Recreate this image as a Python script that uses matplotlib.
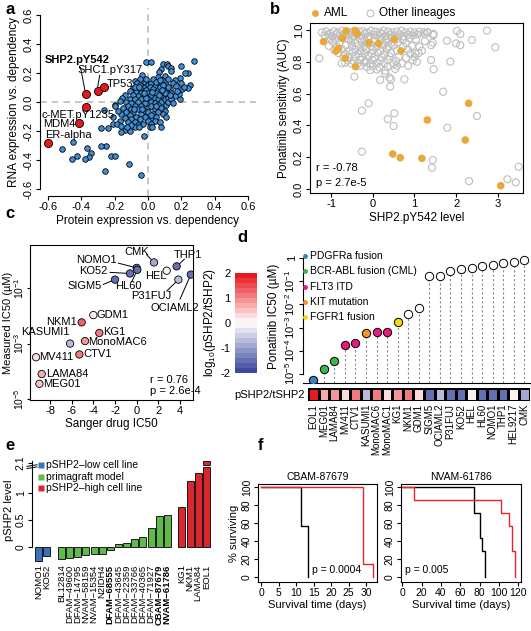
import matplotlib.pyplot as plt
import numpy as np
from matplotlib.colors import LinearSegmentedColormap, BoundaryNorm
from matplotlib.lines import Line2D

plt.rcParams['font.family'] = ['Liberation Sans', 'DejaVu Sans']
plt.rcParams['font.size'] = 8
plt.rcParams['axes.linewidth'] = 0.8
plt.rcParams['xtick.major.width'] = 0.8
plt.rcParams['ytick.major.width'] = 0.8
plt.rcParams['xtick.major.size'] = 3
plt.rcParams['ytick.major.size'] = 3
plt.rcParams['xtick.major.pad'] = 1.5
plt.rcParams['ytick.major.pad'] = 1.5
plt.rcParams['xtick.labelsize'] = 8
plt.rcParams['ytick.labelsize'] = 8
plt.rcParams['axes.labelsize'] = 8.5
plt.rcParams['axes.unicode_minus'] = False
plt.rcParams['mathtext.fontset'] = 'custom'
plt.rcParams['mathtext.rm'] = 'Liberation Sans'
plt.rcParams['mathtext.it'] = 'Liberation Sans:italic'
plt.rcParams['mathtext.bf'] = 'Liberation Sans:bold'
plt.rcParams['mathtext.default'] = 'regular'

# ---------------- data ----------------
# a: protein vs RNA dependency correlation
a_points = [
    (0.278, 0.285), (0.198, 0.248), (0.092, 0.262), (0.112, 0.262), (0.122, 0.248), (0.138, 0.237),
    (0.076, 0.228), (0.138, 0.214), (0.066, 0.21), (0.238, 0.202), (0.222, 0.2), (0.252, 0.117),
    (0.242, 0.099), (0.192, 0.168), (0.162, 0.152), (0.206, 0.09), (0.192, 0.023), (0.188, 0.052),
    (0.132, 0.09), (0.15, 0.13), (0.17, 0.11), (0.1, 0.18), (0.12, 0.16), (0.085, 0.15), (0.14, 0.06),
    (0.16, 0.04), (0.175, 0.075), (0.105, 0.12), (0.118, 0.1), (0.09, 0.09), (0.062, 0.17), (0.05, 0.13),
    (0.2, 0.13), (0.215, 0.105),
    (-0.014, 0.278), (0.016, 0.278), (-0.038, 0.186), (-0.048, 0.16), (-0.08, 0.145), (-0.064, 0.13),
    (-0.092, 0.094), (-0.108, 0.073), (-0.138, 0.048), (-0.155, 0.03), (-0.17, 0.01),
    (-0.02, 0.14), (0.0, 0.12), (0.02, 0.13), (0.04, 0.11), (-0.03, 0.1), (-0.05, 0.09), (0.01, 0.1),
    (0.03, 0.09), (0.06, 0.08), (-0.07, 0.07), (-0.01, 0.08), (0.05, 0.06), (0.07, 0.1), (-0.04, 0.06),
    (0.0, 0.06), (0.02, 0.05), (0.08, 0.04), (0.1, 0.06), (-0.06, 0.04), (-0.09, 0.05), (-0.02, 0.04),
    (0.04, 0.03), (0.06, 0.02), (-0.11, 0.02), (-0.08, 0.02), (-0.04, 0.02), (0.0, 0.02), (0.02, 0.0),
    (0.08, 0.0), (0.1, 0.02), (0.12, 0.03), (-0.13, 0.0), (-0.1, -0.01), (-0.06, 0.0), (-0.02, -0.01),
    (0.04, -0.01), (0.06, -0.02), (0.11, -0.02), (-0.12, -0.03), (-0.08, -0.03), (-0.04, -0.03),
    (0.0, -0.04), (0.02, -0.03), (0.08, -0.04), (-0.15, -0.04), (-0.1, -0.05), (-0.06, -0.05),
    (-0.02, -0.06), (0.04, -0.05), (0.1, -0.06), (-0.13, -0.07), (-0.09, -0.07), (-0.04, -0.08),
    (0.0, -0.07), (0.03, -0.08), (0.06, -0.07), (-0.11, -0.09), (-0.07, -0.1), (-0.02, -0.1),
    (0.02, -0.11), (0.05, -0.1), (-0.14, -0.11), (-0.1, -0.12), (-0.05, -0.12), (0.0, -0.13),
    (0.04, -0.13), (-0.12, -0.14), (-0.08, -0.14), (-0.03, -0.15), (0.02, -0.15), (-0.06, -0.16),
    (0.07, -0.14), (0.01, -0.17), (-0.01, 0.16), (0.03, 0.16), (-0.05, 0.12), (0.05, 0.14),
    (-0.08, 0.1), (0.09, 0.12), (0.07, 0.15), (0.12, 0.0), (0.14, 0.02), (0.15, -0.01), (0.13, 0.05),
    (0.09, -0.08), (0.11, -0.1), (-0.16, -0.08), (-0.17, -0.13), (-0.18, -0.06), (-0.2, -0.02),
    (0.025, 0.07), (-0.015, 0.025), (0.045, -0.025), (-0.035, -0.045), (0.065, 0.045), (-0.055, 0.105),
    (0.015, -0.09), (-0.085, -0.05), (0.085, 0.08), (-0.025, 0.065),
    (-0.212, -0.101), (-0.198, -0.028), (-0.264, -0.055), (-0.208, -0.154), (-0.188, -0.154),
    (-0.164, -0.166), (-0.078, -0.17), (-0.052, -0.175), (0.022, -0.175), (0.078, -0.17),
    (-0.282, -0.177), (-0.238, -0.182), (-0.022, -0.234), (-0.112, -0.428), (-0.044, -0.506),
    (-0.256, -0.478), (-0.222, -0.37), (-0.198, -0.37), (-0.25, -0.301), (-0.282, -0.301),
    (-0.344, -0.349), (-0.352, -0.377), (-0.376, -0.395), (-0.364, -0.32), (-0.424, -0.37),
    (-0.454, -0.391), (-0.452, -0.278), (-0.518, -0.324), (-0.14, -0.19), (-0.11, -0.2),
    (-0.16, -0.21), (-0.1, -0.16), (-0.125, -0.175),
]
a_hit_names = ['SHP2.pY542', 'SHC1.pY317', 'TP53', 'c-MET.pY1235', 'MDM4', 'ER-alpha']
a_hit_prot = [-0.372, -0.302, -0.264, -0.372, -0.414, -0.598]
a_hit_rna = [0.055, 0.078, 0.101, -0.032, -0.143, -0.28]

# b: ponatinib sensitivity vs SHP2.pY542
b_aml_x = [-1.18, -0.88, -0.82, -0.72, -0.64, -0.66, -0.42, -0.37, -0.41, -0.09, 0.14, 0.52, 0.68,
           2.30, 1.31, 2.22, 0.48, 0.66, 1.18, 3.07]
b_aml_y = [0.927, 0.868, 0.885, 0.948, 0.994, 0.822, 0.996, 0.975, 0.769, 0.920, 0.914, 0.941, 0.868,
           0.539, 0.434, 0.308, 0.220, 0.197, 0.193, 0.021]
b_other = [
    (-1.22, 0.985), (-1.12, 0.99), (-1.02, 0.98), (-0.93, 0.992), (-0.84, 0.985), (-0.74, 0.995),
    (-0.62, 0.99), (-0.52, 0.985), (-0.44, 0.995), (-0.33, 0.99), (-0.24, 0.993), (-0.14, 0.985),
    (-0.04, 0.995), (0.06, 0.99), (0.17, 0.985), (0.26, 0.995), (0.37, 0.99), (0.47, 0.985),
    (0.58, 0.99), (0.69, 0.995), (0.79, 0.985), (0.9, 0.99), (1.0, 0.985), (1.12, 0.99),
    (1.22, 0.985), (1.32, 0.985),
    (-1.15, 0.965), (-1.06, 0.97), (-0.97, 0.96), (-0.87, 0.972), (-0.78, 0.965), (-0.68, 0.975),
    (-0.57, 0.968), (-0.47, 0.96), (-0.38, 0.972), (-0.28, 0.965), (-0.18, 0.975), (-0.08, 0.962),
    (0.02, 0.97), (0.12, 0.966), (0.22, 0.975), (0.31, 0.962), (0.42, 0.97), (0.53, 0.965),
    (0.64, 0.972), (0.74, 0.96), (0.85, 0.97), (0.96, 0.965), (1.08, 0.972), (1.45, 0.968),
    (1.46, 0.975),
    (-1.0, 0.945), (-0.9, 0.94), (-0.76, 0.95), (-0.58, 0.942), (-0.5, 0.948), (-0.3, 0.945),
    (-0.2, 0.94), (-0.1, 0.95), (0.06, 0.944), (0.2, 0.948), (0.33, 0.94), (0.45, 0.95),
    (0.6, 0.945), (0.72, 0.94), (0.88, 0.948), (1.04, 0.942),
    (-0.96, 0.925), (-0.8, 0.92), (-0.52, 0.928), (-0.42, 0.918), (-0.26, 0.925), (-0.14, 0.915),
    (0.02, 0.925), (0.24, 0.92), (0.32, 0.928), (0.44, 0.915), (0.6, 0.922), (0.8, 0.918),
    (1.25, 0.93), (1.44, 0.92),
    (-1.05, 0.9), (-0.86, 0.895), (-0.64, 0.905), (-0.5, 0.898), (-0.34, 0.902), (-0.22, 0.895),
    (-0.04, 0.9), (0.1, 0.895), (0.26, 0.905), (0.38, 0.898), (0.5, 0.902), (0.73, 0.895),
    (0.94, 0.9), (1.12, 0.895), (1.4, 0.905),
    (-0.92, 0.875), (-0.74, 0.88), (-0.56, 0.872), (-0.42, 0.878), (-0.28, 0.87), (-0.16, 0.88),
    (0.0, 0.875), (0.18, 0.87), (0.34, 0.88), (0.58, 0.872), (0.84, 0.878), (1.18, 0.87),
    (-0.82, 0.855), (-0.66, 0.85), (-0.48, 0.858), (-0.34, 0.85), (-0.2, 0.855), (-0.02, 0.85),
    (0.12, 0.858), (0.28, 0.85), (0.44, 0.855), (0.9, 0.85), (1.1, 0.855),
    (-0.7, 0.835), (-0.58, 0.828), (-0.42, 0.832), (-0.26, 0.83), (-0.1, 0.835), (0.04, 0.828),
    (0.22, 0.83), (0.4, 0.835), (0.62, 0.83), (0.8, 0.825), (1.0, 0.83),
    (-0.6, 0.81), (-0.46, 0.805), (-0.3, 0.812), (-0.16, 0.805), (0.0, 0.81), (0.18, 0.808),
    (0.36, 0.812), (0.56, 0.805), (0.96, 0.81),
    (-0.74, 0.79), (-0.66, 0.795), (-0.5, 0.788), (-0.36, 0.79), (-0.2, 0.795), (-0.06, 0.785),
    (0.1, 0.79), (0.28, 0.792), (0.5, 0.785), (0.7, 0.79), (1.06, 0.8),
    (-0.3, 0.775), (-0.14, 0.768), (0.0, 0.772), (0.16, 0.765), (0.36, 0.77), (0.58, 0.775),
    (0.85, 0.775), (-0.06, 0.748), (0.1, 0.752), (0.3, 0.745), (0.54, 0.755),
    (-1.28, 0.822), (-0.26, 0.493), (-0.10, 0.539), (-0.26, 0.235), (0.36, 0.440), (0.52, 0.476),
    (0.50, 0.396), (1.69, 0.612), (1.79, 0.386), (2.50, 0.459), (1.40, 0.811), (1.46, 0.753),
    (1.86, 0.801), (1.44, 0.182), (1.42, 0.134), (2.31, 0.050), (3.23, 0.061), (3.43, 0.042),
    (3.50, 0.140), (2.74, 0.996), (2.94, 0.891), (2.38, 0.937), (2.02, 0.994), (2.10, 0.975),
    (2.00, 0.916), (2.10, 0.905), (1.78, 0.933), (0.76, 0.690), (0.30, 0.727), (0.44, 0.690),
    (0.42, 0.644), (0.18, 0.686), (-0.44, 0.707), (0.40, 0.70), (1.30, 0.985), (1.25, 0.975),
    (1.02, 0.853),
]

# c: Sanger IC50 vs measured IC50
c_lines = ['CMK', 'THP1', 'NOMO1', 'HEL', 'KO52', 'P31FUJ', 'OCIAML2', 'SIGM5', 'HL60', 'GDM1',
           'NKM1', 'KG1', 'MonoMAC6', 'KASUMI1', 'CTV1', 'MV411', 'LAMA84', 'MEG01']
c_sanger = [1.6, 3.69, 0.0, 2.77, -0.62, 3.85, 5.0, -2.0, 0.06, -4.0, -5.08, -3.45, -4.77, -6.15,
            -5.29, -9.29, -8.77, -8.98]
c_log_ic50 = [-0.094, -0.235, -0.29, -0.39, -0.49, -0.71, -0.53, -0.71, -0.36, -1.98, -2.24, -2.62,
              -2.91, -3.0, -3.39, -3.49, -4.09, -4.44]
c_ratio = [-1.0, -1.6, -1.6, 0.0, -1.6, -0.6, -1.6, -1.6, -1.6, 0.2, 1.3, 1.0, 0.9, -0.6, 1.2, 0.3,
           0.7, 0.6]

# d: ponatinib IC50 per cell line + pSHP2/tSHP2 heatmap
d_lines = ['EOL1', 'MEG01', 'LAMA84', 'MV411', 'CTV1', 'KASUMI1', 'MonoMAC6', 'MonoMAC1', 'KG1',
           'NKM1', 'GDM1', 'SIGM5', 'OCIAML2', 'P31FUJ', 'KO52', 'HEL', 'HL60', 'NOMO1', 'THP1',
           'HEL9217', 'CMK']
d_log_ic50 = [-5.26, -4.78, -4.44, -3.75, -3.65, -3.22, -3.18, -3.18, -2.78, -2.43, -2.14, -0.78,
              -0.78, -0.56, -0.49, -0.42, -0.34, -0.30, -0.23, -0.16, -0.09]
d_lesion = ['PDGFRa fusion', 'BCR-ABL fusion (CML)', 'BCR-ABL fusion (CML)', 'FLT3 ITD', 'FLT3 ITD',
            'KIT mutation', 'FLT3 ITD', 'FLT3 ITD', 'FGFR1 fusion'] + [None] * 12
d_ratio = [1.85, 0.75, 0.9, 0.3, 1.2, -0.6, 1.0, 0.4, 0.9, 1.1, 0.25, -1.6, -0.6, -1.6, -1.6, 0.0,
           -1.6, -1.6, -1.6, 0.2, -1.0]
lesion_names = ['PDGFRa fusion', 'BCR-ABL fusion (CML)', 'FLT3 ITD', 'KIT mutation', 'FGFR1 fusion']
lesion_colors = ['#3A7DC0', '#3DB54A', '#E9197E', '#F7941D', '#F5DA0F']

# e: pSHP2 levels
e_low_names = ['NOMO1', 'KO52']
e_low_vals = [-0.25, -0.16]
e_pdx_names = ['BL12814', 'DFAM\u221249600', 'DFAM\u221214795', 'NVAM\u221258159', 'NVAM\u221215354',
               'N2IDH4', 'DFAM\u221268555', 'DFAM\u221243645', 'DFAM\u221222359', 'DFAM\u221233766',
               'DFAM\u221240365', 'DFAM\u221271927', 'CBAM\u221287679', 'NVAM\u221261786']
e_pdx_vals = [-0.22, -0.21, -0.18, -0.14, -0.13, -0.12, -0.055, 0.05, 0.08, 0.14, 0.19, 0.35, 0.57,
              0.585]
e_pdx_bold = ['DFAM\u221268555', 'CBAM\u221287679', 'NVAM\u221261786']
e_high_names = ['KG1', 'NKM1', 'LAMA84', 'EOL1']
e_high_vals = [0.735, 1.23, 1.38, 2.1]

# f: survival curves (time in days, % surviving)
f1_ctrl_t = [0, 11.5, 13.5]
f1_ctrl_s = [100, 57.1, 0]
f1_trt_t = [0, 29, 32]
f1_trt_s = [100, 14.3, 0]
f2_ctrl_t = [0, 74.5, 80.5, 82, 85]
f2_ctrl_s = [100, 71.4, 42.9, 28.6, 0]
f2_trt_t = [0, 12, 102, 110, 113, 117]
f2_trt_s = [100, 85.7, 71.4, 57.1, 28.6, 0]

# ---------------- figure helpers ----------------
W, H = 531, 631
fig = plt.figure(figsize=(W / 100, H / 100), dpi=100)


def px_axes(l, t, r, b):
    ax = fig.add_axes([l / W, 1 - b / H, (r - l) / W, (b - t) / H])
    ax.patch.set_alpha(0)
    return ax


def px_text(x, y, s, **kw):
    fig.text(x / W, 1 - y / H, s, **kw)


def px_marker(x, y, **kw):
    fig.add_artist(Line2D([x / W], [1 - y / H], transform=fig.transFigure, ls='none', **kw))


cmap = LinearSegmentedColormap.from_list('pshp2', ['#3E4A9E', '#FFFFFF', '#E7191F'])
bounds = np.linspace(-2, 2, 21)
norm = BoundaryNorm(bounds, cmap.N)

# ---------------- panel a ----------------
ax = px_axes(40, 8, 256, 196)
ax.axvline(0, color='#BDBDBD', lw=1.2, ls=(0, (4, 3)), zorder=0)
ax.axhline(0, color='#BDBDBD', lw=1.2, ls=(0, (4, 3)), zorder=0)
a_xy = np.array(a_points)
ax.scatter(a_xy[:, 0], a_xy[:, 1], s=16, color='#3F8FD8', edgecolors='black', linewidths=0.6, zorder=2)
ax.scatter(a_hit_prot, a_hit_rna, s=34, color='#E3191C', edgecolors='black', linewidths=0.6, zorder=3)
ax.set_xlim(-0.648, 0.648)
ax.set_ylim(-0.648, 0.648)
for s in ['top', 'right']:
    ax.spines[s].set_visible(False)
ax.spines['left'].set_bounds(-0.6, 0.6)
ax.spines['bottom'].set_bounds(-0.6, 0.6)
a_ticks = [-0.6, -0.4, -0.2, 0.0, 0.2, 0.4, 0.6]
a_ticklabels = ['-0.6', '-0.4', '-0.2', '0.0', '0.2', '0.4', '0.6']
ax.set_xticks(a_ticks, a_ticklabels)
ax.set_yticks(a_ticks, a_ticklabels, rotation=90, va='center')
ax.set_xlabel('Protein expression vs. dependency', labelpad=2)
ax.set_ylabel('RNA expression vs. dependency', labelpad=3)
ax.text(-0.618, 0.29, 'SHP2.pY542', fontweight='bold', fontsize=8, va='center', ha='left')
ax.plot([-0.405, -0.378], [0.238, 0.078], color='black', lw=0.7)
ax.text(-0.426, 0.22, 'SHC1.pY317', fontsize=8, va='center', ha='left')
ax.plot([-0.29, -0.302], [0.185, 0.1], color='black', lw=0.7)
ax.text(-0.246, 0.124, 'TP53', fontsize=8, va='center', ha='left')
ax.text(-0.636, -0.09, 'c-MET.pY1235', fontsize=8, va='center', ha='left')
ax.text(-0.63, -0.152, 'MDM4', fontsize=8, va='center', ha='left')
ax.text(-0.618, -0.228, 'ER-alpha', fontsize=8, va='center', ha='left')
px_text(5, 9, 'a', fontsize=12, fontweight='bold', va='center')

# ---------------- panel b ----------------
ax = px_axes(310, 23, 523, 193)
b_xy = np.array(b_other)
ax.scatter(b_xy[:, 0], b_xy[:, 1], s=26, facecolors='none', edgecolors='#BEBEBE', linewidths=0.8, zorder=1)
ax.scatter(b_aml_x, b_aml_y, s=30, color='#E8A93A', edgecolors='none', zorder=2)
ax.set_xlim(-1.504, 3.604)
ax.set_ylim(-0.025, 1.044)
ax.set_xticks([-1, 0, 1, 2, 3], ['-1', '0', '1', '2', '3'])
b_yt = [0.0, 0.2, 0.4, 0.6, 0.8, 1.0]
ax.set_yticks(b_yt, ['0.0', '0.2', '0.4', '0.6', '0.8', '1.0'], rotation=90, va='center')
ax.set_xlabel('SHP2.pY542 level', labelpad=2)
ax.set_ylabel('Ponatinib sensitivity (AUC)', labelpad=3)
ax.text(-1.36, 0.13, 'r = -0.78', fontsize=8, va='center', ha='left')
ax.text(-1.36, 0.038, 'p = 2.7e-5', fontsize=8, va='center', ha='left')
px_marker(315, 13, marker='o', markersize=5, color='#E8A93A', mec='none')
px_text(324, 13, 'AML', fontsize=8.5, va='center')
px_marker(370, 13, marker='o', markersize=5, mfc='none', mec='#BEBEBE', mew=0.8)
px_text(379, 13, 'Other lineages', fontsize=8.5, va='center')
px_text(270, 10, 'b', fontsize=12, fontweight='bold', va='center')

# ---------------- panel c ----------------
ax = px_axes(30, 245, 193, 400)
ax.set_yscale('log')
c_lab = {
    'NOMO1': (-1.85, 0.0, 'right', (-1.69, -0.12)),
    'CMK': (0.0, 0.27, 'center', (0.92, 0.18)),
    'THP1': (4.77, 0.18, 'center', (4.4, 0.02)),
    'KO52': (-2.7, -0.39, 'right', (-2.46, -0.45)),
    'HEL': (1.78, -0.59, 'center', None),
    'SIGM5': (-3.23, -0.94, 'right', (-3.08, -0.88)),
    'HL60': (-0.77, -0.94, 'center', (-0.46, -0.79)),
    'P31FUJ': (1.38, -1.29, 'center', (2.77, -1.12)),
    'OCIAML2': (3.54, -1.71, 'center', (4.0, -1.41)),
    'GDM1': (-3.69, -1.98, 'left', None),
    'NKM1': (-5.48, -2.24, 'right', None),
    'KG1': (-3.08, -2.6, 'left', None),
    'MonoMAC6': (-4.46, -2.93, 'left', None),
    'KASUMI1': (-8.45, -2.58, 'center', None),
    'CTV1': (-4.92, -3.39, 'left', None),
    'MV411': (-8.98, -3.49, 'left', None),
    'LAMA84': (-8.4, -4.09, 'left', None),
    'MEG01': (-8.6, -4.44, 'left', None),
}
for name, sx, sy in zip(c_lines, c_sanger, c_log_ic50):
    tx, ty, ha, start = c_lab[name]
    ax.text(tx, 10 ** ty, name, fontsize=8, ha=ha, va='center')
    if start is not None:
        ax.plot([start[0], sx], [10 ** start[1], 10 ** sy], color='black', lw=0.7, zorder=1)
ax.scatter(c_sanger, 10 ** np.array(c_log_ic50), c=c_ratio, cmap=cmap, norm=norm, s=28,
           edgecolors='black', linewidths=0.6, zorder=3)
ax.set_xlim(-9.85, 5.2)
ax.set_ylim(10 ** -5.02, 10 ** 0.53)
ax.minorticks_off()
ax.set_xticks([-8, -6, -4, -2, 0, 2, 4], ['-8', '-6', '-4', '-2', '0', '2', '4'])
ax.set_yticks([1e-1, 1e-3, 1e-5], ['$10^{-1}$', '$10^{-3}$', '$10^{-5}$'], rotation=90, va='center',
              fontsize=7.5)
ax.tick_params(axis='y', pad=0.5, length=2.5)
ax.set_xlabel('Sanger drug IC50', labelpad=1)
ax.set_ylabel('Measured IC50 (\u00b5M)', fontsize=8)
ax.yaxis.set_label_coords(-0.106, 0.5)
ax.text(1.2, 10 ** -4.29, 'r = 0.76', fontsize=8, va='center', ha='left')
ax.text(1.2, 10 ** -4.71, 'p = 2.6e-4', fontsize=8, va='center', ha='left')
px_text(5, 214, 'c', fontsize=12, fontweight='bold', va='center')

# colour bar
ax = px_axes(235, 273, 257, 373)
ax.pcolormesh([0, 1], bounds, ((bounds[:-1] + bounds[1:]) / 2)[:, None], cmap=cmap, norm=norm)
ax.set_xticks([])
ax.set_yticks([-2, -1, 0, 1, 2], ['-2', '-1', '0', '1', '2'])
ax.tick_params(axis='y', length=0, pad=3)
for s in ax.spines.values():
    s.set_visible(False)
ax.set_ylabel('log$_{10}$(pSHP2/tSHP2)', labelpad=2)
px_text(237, 237, 'd', fontsize=12, fontweight='bold', va='center')

# ---------------- panel d ----------------
col_w = 10.55
ax = px_axes(303, 250, 530, 383)
ax.set_yscale('log')
idx = np.arange(len(d_lines))
y_bottom = 10 ** -5.39
for i, v, les in zip(idx, d_log_ic50, d_lesion):
    ax.plot([i, i], [y_bottom, 10 ** v], color='#8C8C8C', lw=0.8, ls=(0, (2, 2)), zorder=1)
    col = 'white' if les is None else lesion_colors[lesion_names.index(les)]
    ax.scatter(i, 10 ** v, s=36, color=col, edgecolors='black', linewidths=0.7, zorder=3)
ax.set_xlim((303 - 308) / col_w - 0.5, (530 - 308) / col_w - 0.5)
ax.set_ylim(y_bottom, 10 ** 0.345)
ax.minorticks_off()
ax.set_xticks([])
for s in ['top', 'right']:
    ax.spines[s].set_visible(False)
ax.spines['left'].set_bounds(1e-5, 1)
ax.set_yticks([1, 1e-1, 1e-2, 1e-3, 1e-4, 1e-5],
              ['1', '$10^{-1}$', '$10^{-2}$', '$10^{-3}$', '$10^{-4}$', '$10^{-5}$'],
              rotation=90, va='center')
ax.set_ylabel('Ponatinib IC50 (\u00b5M)', labelpad=2)
for k, (name, col) in enumerate(zip(lesion_names, lesion_colors)):
    yy = 256 + k * 15.3
    px_marker(305, yy, marker='o', markersize=3.5, color=col, mec='none')
    px_text(310, yy, name, fontsize=7.5, va='center')

ax = px_axes(308, 388, 308 + 21 * col_w, 401)
ax.pcolormesh(np.arange(22) - 0.5, [0, 1], np.array(d_ratio)[None, :], cmap=cmap, norm=norm,
              edgecolors='black', linewidth=0.8)
ax.set_xlim(-0.5, 20.5)
ax.set_ylim(0, 1)
ax.set_xticks(idx, d_lines, rotation=90, fontsize=7)
ax.set_yticks([0.5], ['pSHP2/tSHP2'], fontsize=8)
ax.tick_params(length=0, pad=2)
for s in ax.spines.values():
    s.set_visible(False)

# ---------------- panel e ----------------
gap = 0.8
pos_low = np.arange(len(e_low_vals))
pos_pdx = np.arange(len(e_pdx_vals)) + len(e_low_vals) + gap
pos_high = np.arange(len(e_high_vals)) + len(e_low_vals) + len(e_pdx_vals) + 2 * gap
unit = 8.14
ax = px_axes(32, 458, 232, 563)
break_lo, break_hi, cap_top = 1.48, 1.52, 1.59
bw = 0.86
ax.bar(pos_low, e_low_vals, width=bw, color='#3B72B9', edgecolor='black', linewidth=0.6)
ax.bar(pos_pdx, e_pdx_vals, width=bw, color='#62B94B', edgecolor='black', linewidth=0.6)
ax.bar(pos_high, [min(v, break_lo) for v in e_high_vals], width=bw, color='#D7282F',
       edgecolor='black', linewidth=0.6)
for p, v in zip(pos_high, e_high_vals):
    if v > break_lo:
        ax.bar(p, cap_top - break_hi, bottom=break_hi, width=bw, color='#D7282F',
               edgecolor='black', linewidth=0.6)
ax.set_xlim(-6.7 / unit, 193.3 / unit)
ax.set_ylim(-0.296, 1.65)
for s in ['top', 'right', 'bottom']:
    ax.spines[s].set_visible(False)
ax.spines['left'].set_bounds(0, 1.6)
ax.set_yticks([0, 0.5, 1, 1.555], ['0', '0.5', '1', '2.1'], rotation=90, va='center', fontsize=7.5)
ax.plot([-0.025, 0.025], [1.455, 1.485], transform=ax.get_yaxis_transform(), color='black',
        lw=0.7, clip_on=False)
ax.plot([-0.025, 0.025], [1.495, 1.525], transform=ax.get_yaxis_transform(), color='black',
        lw=0.7, clip_on=False)
all_pos = np.concatenate([pos_low, pos_pdx, pos_high])
all_names = e_low_names + e_pdx_names + e_high_names
ax.set_xticks(all_pos, all_names, rotation=90, fontsize=6.8, va='top')
ax.tick_params(axis='x', length=0, pad=1)
for lab in ax.get_xticklabels():
    if lab.get_text() in e_pdx_bold:
        lab.set_fontweight('bold')
ax.set_ylabel('pSHP2 level', labelpad=1, fontsize=8)
e_leg = [('pSHP2\u2013low cell line', '#3B72B9'), ('primagraft model', '#62B94B'),
         ('pSHP2\u2013high cell line', '#D7282F')]
for k, (lab, col) in enumerate(e_leg):
    yy = 465 + k * 11.5
    px_marker(40.7, yy, marker='s', markersize=4, color=col, mec='none')
    px_text(46.5, yy, lab, fontsize=7.5, va='center')
px_text(5, 445, 'e', fontsize=12, fontweight='bold', va='center')

# ---------------- panel f ----------------
ax = px_axes(258, 484, 377, 582)
ax.step(f1_ctrl_t, f1_ctrl_s, where='post', color='black', lw=1)
ax.step(f1_trt_t, f1_trt_s, where='post', color='#E8262A', lw=1)
ax.set_xlim(-0.86, 33.1)
ax.set_ylim(-5.6, 103.3)
ax.set_xticks([0, 5, 10, 15, 20, 25, 30], ['0', '5', '10', '15', '20', '25', '30'], fontsize=7.5)
ax.set_yticks([0, 20, 40, 60, 80, 100], ['0', '20', '40', '60', '80', '100'], rotation=90,
              va='center', fontsize=7.5)
ax.set_title('CBAM-87679', fontsize=7.5, pad=3)
ax.text(14.5, 7.8, 'p = 0.0004', fontsize=7.5, va='center', ha='left')
ax.set_xlabel('Survival time (days)', fontsize=8, labelpad=1)
ax.set_ylabel('% surviving', fontsize=8, labelpad=2)

ax = px_axes(401, 484, 521, 582)
ax.step(f2_ctrl_t, f2_ctrl_s, where='post', color='black', lw=1)
ax.step(f2_trt_t, f2_trt_s, where='post', color='#E8262A', lw=1)
ax.set_xlim(-1.3, 122.7)
ax.set_ylim(-5.6, 103.3)
ax.set_xticks([0, 20, 40, 60, 80, 100, 120], ['0', '20', '40', '60', '80', '100', '120'], fontsize=7.5)
ax.set_yticks([0, 20, 40, 60, 80, 100], ['0', '20', '40', '60', '80', '100'], rotation=90,
              va='center', fontsize=7.5)
ax.set_title('NVAM-61786', fontsize=7.5, pad=3)
ax.text(2.8, 7.8, 'p = 0.005', fontsize=7.5, va='center', ha='left')
ax.set_xlabel('Survival time (days)', fontsize=8, labelpad=1)
px_text(258, 445, 'f', fontsize=12, fontweight='bold', va='center')

fig.savefig('out.png', dpi=100)
